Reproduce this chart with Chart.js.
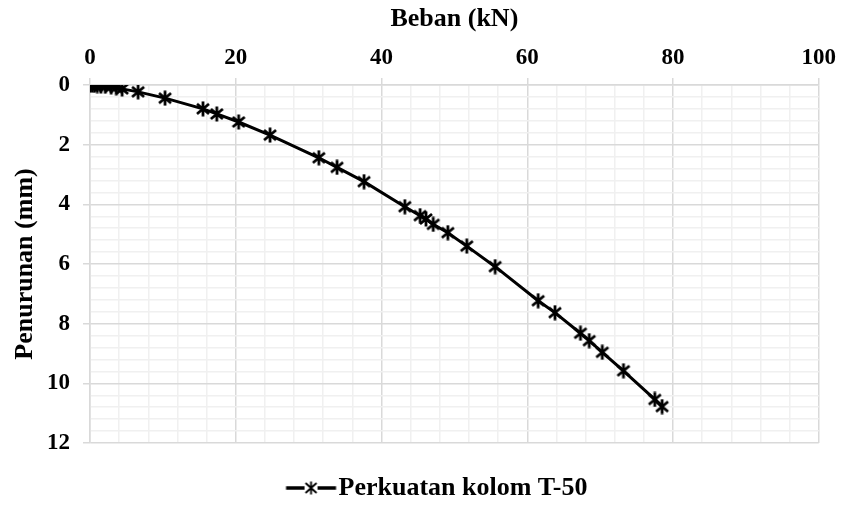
<!DOCTYPE html>
<html>
<head>
<meta charset="utf-8">
<script src="https://cdn.jsdelivr.net/npm/chart.js@4"></script>
<style>
html,body{margin:0;padding:0;background:#fff;}
#wrap{width:842px;height:506px;}
</style>
</head>
<body>
<div id="wrap"><canvas id="c" width="842" height="506"></canvas></div>
<script>
const seriesName = "Perkuatan kolom T-50";
const xTitle = "Beban (kN)";
const yTitle = "Penurunan (mm)";
const loadKN = [0, 0.3, 0.6, 1.0, 1.5, 2.1, 2.9, 3.6, 4.4, 6.6, 10.3, 15.5, 17.4, 20.4, 24.7, 31.4, 33.9, 37.6, 43.2, 45.3, 46.1, 47.1, 49.1, 51.7, 55.6, 61.5, 63.8, 67.3, 68.5, 70.3, 73.2, 77.5, 78.5];
const settleMM = [0, 0.0, 0.01, 0.02, 0.03, 0.04, 0.06, 0.09, 0.13, 0.23, 0.44, 0.80, 0.97, 1.24, 1.68, 2.44, 2.76, 3.24, 4.08, 4.38, 4.49, 4.67, 4.95, 5.40, 6.09, 7.23, 7.63, 8.32, 8.57, 8.96, 9.58, 10.54, 10.78];
const xTickLabels = [0, 20, 40, 60, 80, 100];
const yTickLabels = [0, 2, 4, 6, 8, 10, 12];

function starMarker(){
  const s = 16, cv = document.createElement('canvas');
  cv.width = s; cv.height = s;
  const g = cv.getContext('2d');
  g.strokeStyle = '#000'; g.lineWidth = 2.8; g.lineCap = 'butt';
  g.beginPath();
  g.moveTo(2,3); g.lineTo(14,13);
  g.moveTo(14,3); g.lineTo(2,13);
  g.moveTo(8,0.5); g.lineTo(8,15.5);
  g.stroke();
  return cv;
}
function legendMarker(){
  const w = 100, h = 16, cv = document.createElement('canvas');
  cv.width = w; cv.height = h;
  const g = cv.getContext('2d');
  g.strokeStyle = '#000'; g.lineWidth = 3.5;
  g.beginPath(); g.moveTo(48.5,8); g.lineTo(98.5,8); g.stroke();
  g.fillStyle = '#fff'; g.fillRect(67,1,13,14);
  g.lineWidth = 1.8;
  g.beginPath();
  g.moveTo(68,3); g.lineTo(79,13);
  g.moveTo(79,3); g.lineTo(68,13);
  g.moveTo(73.5,1.5); g.lineTo(73.5,14.5);
  g.stroke();
  return cv;
}
const marker = starMarker();
const legMarker = legendMarker();
const pts = loadKN.map((x,i)=>({x:x, y:settleMM[i]}));
const isMult = (v,m)=>Math.abs(v/m - Math.round(v/m)) < 1e-6;
const font = {family:"'Liberation Serif','Times New Roman',serif", weight:'bold'};

new Chart(document.getElementById('c'), {
  type: 'scatter',
  data: {datasets: [{
    label: seriesName,
    data: pts,
    showLine: true,
    borderColor: '#000',
    borderWidth: 3,
    pointStyle: marker,
    pointRadius: 8,
    pointHoverRadius: 8
  }]},
  options: {
    responsive: false,
    animation: false,
    layout: {padding: {left: 10, right: 15, top: 4, bottom: -5}},
    plugins: {
      tooltip: {enabled: false},
      legend: {
        position: 'bottom',
        labels: {
          color: '#000',
          font: {...font, size: 26},
          usePointStyle: true,
          pointStyleWidth: 76,
          padding: 32,
          generateLabels: (chart)=>[{
            text: seriesName, pointStyle: legMarker, fillStyle: '#000', strokeStyle: '#000',
            lineWidth: 0, hidden: false, datasetIndex: 0, fontColor: '#000'
          }]
        }
      }
    },
    scales: {
      x: {
        type: 'linear', position: 'top', min: 0, max: 100,
        afterFit: (s)=>{ s.height = 81; },
        title: {display: true, text: xTitle, color: '#000', font: {...font, size: 26}, padding: {top: 0, bottom: 10}},
        ticks: {
          stepSize: 4, autoSkip: false, maxRotation: 0, color: '#000', padding: 6,
          font: {...font, size: 23},
          callback: (v)=> (xTickLabels.includes(v) ? String(v) : '')
        },
        grid: {
          color: (c)=> (isMult(c.tick.value,20) ? '#d9d9d9' : '#f0f0f0'),
          tickColor: (c)=> (isMult(c.tick.value,20) ? '#d9d9d9' : 'rgba(0,0,0,0)'),
          tickLength: 7, lineWidth: 1.5
        },
        border: {display: true, color: '#d9d9d9', width: 1.5}
      },
      y: {
        type: 'linear', reverse: true, min: 0, max: 12,
        afterFit: (s)=>{ s.width = 80; },
        title: {display: true, text: yTitle, color: '#000', font: {...font, size: 26}, padding: {top: 0, bottom: 8}},
        ticks: {
          stepSize: 0.4, autoSkip: false, color: '#000', padding: 13,
          font: {...font, size: 23},
          callback: (v)=> { const r = Math.round(v); return (isMult(v,2) && yTickLabels.includes(r)) ? String(r) : ''; }
        },
        grid: {
          color: (c)=> (isMult(c.tick.value,2) ? '#d9d9d9' : '#f0f0f0'),
          tickColor: (c)=> (isMult(c.tick.value,2) ? '#d9d9d9' : 'rgba(0,0,0,0)'),
          tickLength: 7, lineWidth: 1.5
        },
        border: {display: true, color: '#d9d9d9', width: 1.5}
      }
    }
  }
});
</script>
</body>
</html>
